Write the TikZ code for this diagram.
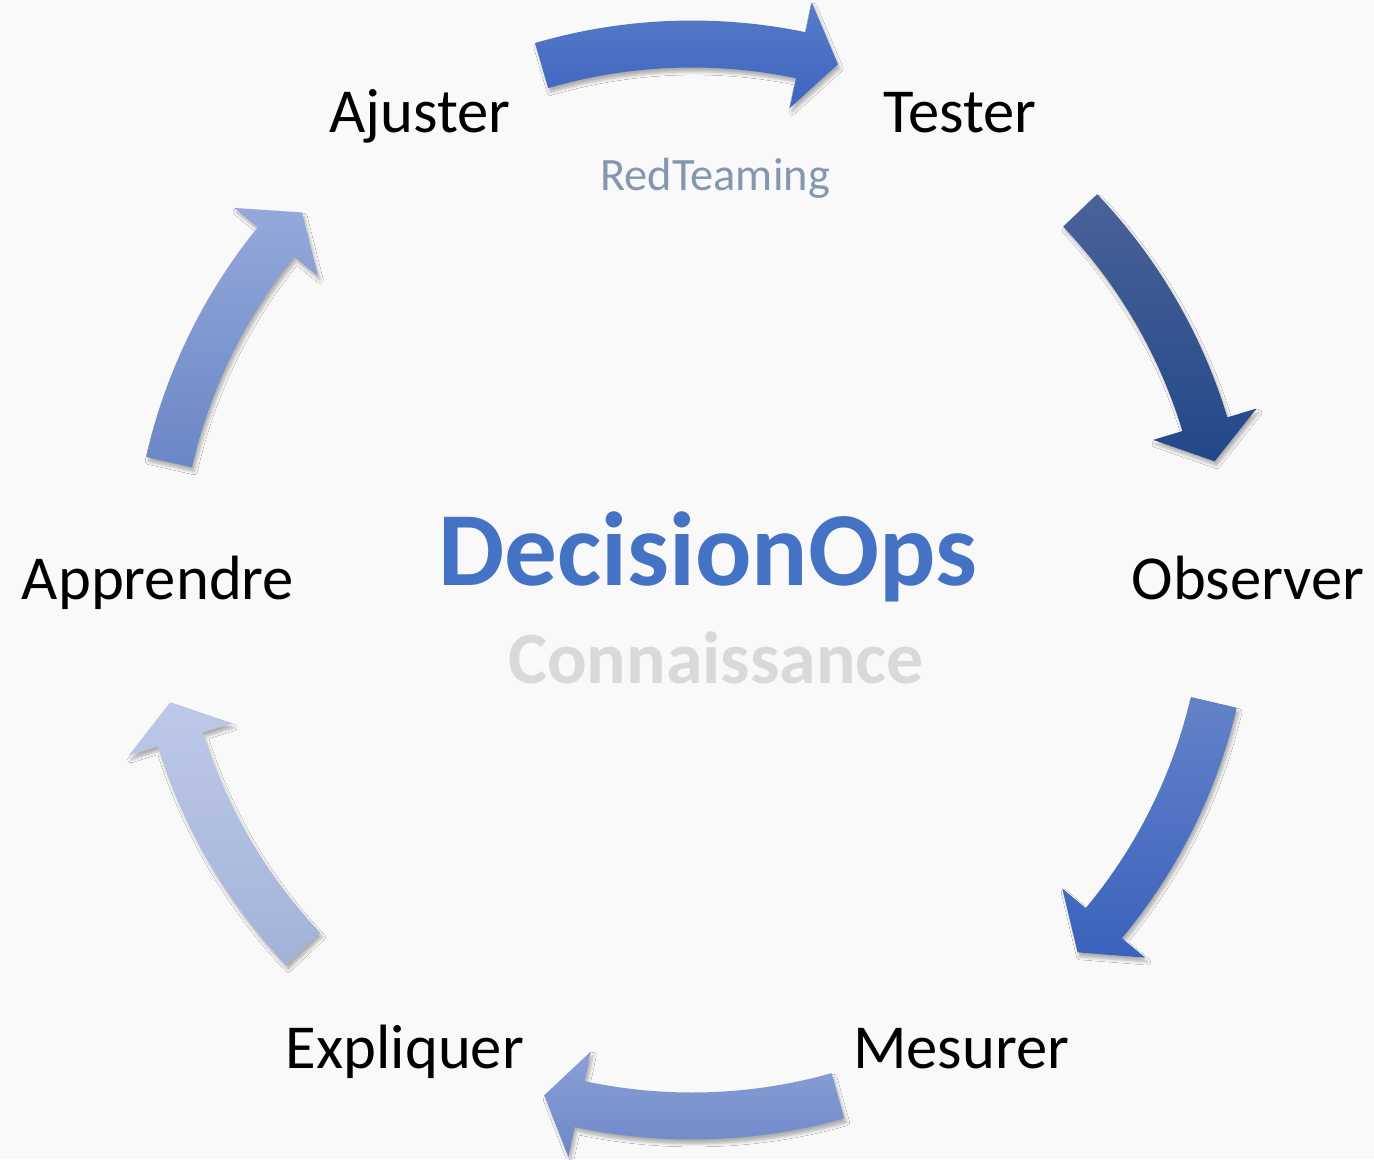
\documentclass[tikz,border=0pt]{standalone}
\usepackage{fontspec}
\setmainfont{Carlito}
\usetikzlibrary{shadows.blur}
\definecolor{opsblue}{HTML}{4472C4}
\definecolor{knowgrey}{HTML}{D9D9D9}
\definecolor{redteam}{HTML}{8497B0}
\definecolor{pagebg}{HTML}{F9F9F9}
% arrow shades, top / bottom
\definecolor{testtop}{HTML}{587BC8}\definecolor{testbot}{HTML}{3D65BF}
\definecolor{obstop}{HTML}{4A6298}\definecolor{obsbot}{HTML}{22488A}
\definecolor{mestop}{HTML}{6382C8}\definecolor{mesbot}{HTML}{3A62BC}
\definecolor{exptop}{HTML}{8AA0D6}\definecolor{expbot}{HTML}{6E88C8}
\definecolor{apptop}{HTML}{BDC9E8}\definecolor{appbot}{HTML}{A2B2D8}
\definecolor{ajutop}{HTML}{94A9DA}\definecolor{ajubot}{HTML}{6B86C6}
\tikzset{
  lbl/.style={font=\fontsize{17.8}{20}\selectfont, anchor=base, inner sep=0pt},
  arr/.style={blur shadow={shadow xshift=0.6pt, shadow yshift=-1.2pt, shadow blur radius=0.9pt, shadow blur steps=5, shadow opacity=30}}
}
% #1 tail angle, #2 head base angle, #3 tip angle, #4 top colour, #5 bottom colour
\newcommand{\cyclearrow}[5]{%
  \shade[arr, top color=#4, bottom color=#5, shift={(692,579)}]
    (#1:559.5) arc[start angle=#1, end angle=#2, radius=559.5]
    -- (#2:590) -- (#3:536) -- (#2:482) -- (#2:512.5)
    arc[start angle=#2, end angle=#1, radius=512.5] -- cycle;}

\begin{document}
\begin{tikzpicture}[x=0.01cm, y=0.01cm]
  \fill[pagebg] (0,0) rectangle (1374,1159);
  \useasboundingbox (0,0) rectangle (1374,1159);

  % arrows, clockwise
  \cyclearrow{106.3}{78.3}{74.2}{testtop}{testbot}
  \cyclearrow{43.6}{16.9}{12.8}{obstop}{obsbot}
  \cyclearrow{-13.2}{-39.8}{-44.0}{mestop}{mesbot}
  \cyclearrow{-74.2}{-102.1}{-106.0}{exptop}{expbot}
  \cyclearrow{-136.5}{-162.7}{-166.8}{apptop}{appbot}
  \cyclearrow{167.3}{140.9}{136.7}{ajutop}{ajubot}

  \node[lbl] (ajuster) at (420,1027) {Ajuster};
  \node[lbl] (tester) at (960,1027) {Tester};
  \node[lbl] (observer) at (1248,560) {Observer};
  \node[lbl] (mesurer) at (961,91) {Mesurer};
  \node[lbl] (expliquer) at (405,91) {Expliquer};
  \node[lbl] (apprendre) at (158,560) {Apprendre};

  \node[anchor=base, inner sep=0pt, text=redteam, font=\fontsize{13.2}{15}\selectfont] (redteaming) at (715,969) {RedTeaming};
  \node[anchor=base, inner sep=0pt, text=opsblue, font=\bfseries\fontsize{29.9}{32}\selectfont] (ops) at (708,574) {DecisionOps};
  \node[anchor=base, inner sep=0pt, text=knowgrey, font=\bfseries\fontsize{21}{24}\selectfont] (savoir) at (716,476) {Connaissance};
\end{tikzpicture}
\end{document}
